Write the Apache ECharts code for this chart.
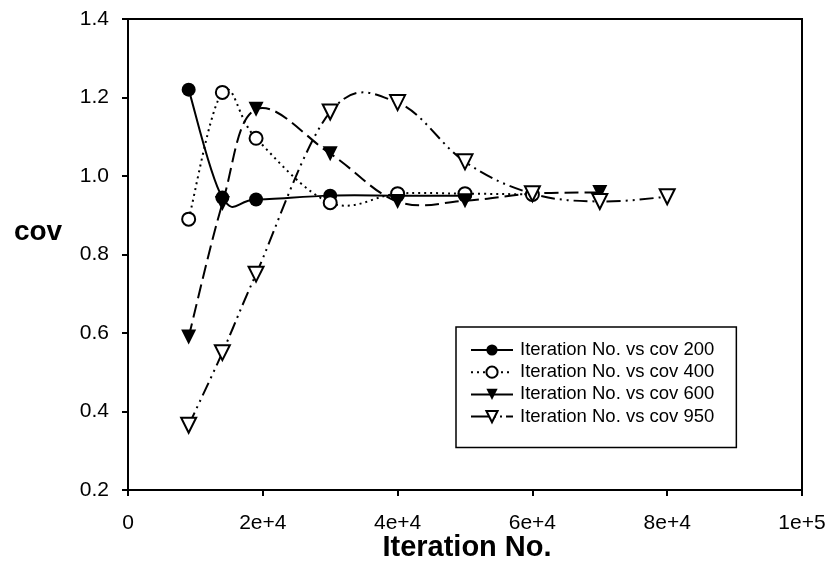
<!DOCTYPE html>
<html>
<head>
<meta charset="utf-8">
<script src="https://cdn.jsdelivr.net/npm/echarts@6/dist/echarts.min.js"></script>
<style>html,body{margin:0;padding:0;background:#fff}#chart{width:830px;height:568px}</style>
</head>
<body>
<div id="chart"></div>
<script>
var seriesNames = ['Iteration No. vs cov 200', 'Iteration No. vs cov 400', 'Iteration No. vs cov 600', 'Iteration No. vs cov 950'];
var iter200 = [9000, 14000, 19000, 30000, 40000, 50000];
var cov200  = [1.22, 0.945, 0.94, 0.95, 0.95, 0.95];
var iter400 = [9000, 14000, 19000, 30000, 40000, 50000, 60000];
var cov400  = [0.89, 1.213, 1.096, 0.932, 0.955, 0.955, 0.953];
var iter600 = [9000, 14000, 19000, 30000, 40000, 50000, 60000, 70000];
var cov600  = [0.59, 0.93, 1.17, 1.057, 0.935, 0.937, 0.955, 0.958];
var iter950 = [9000, 14000, 19000, 30000, 40000, 50000, 60000, 70000, 80000];
var cov950  = [0.365, 0.55, 0.75, 1.163, 1.187, 1.036, 0.955, 0.935, 0.947];
var xTickLabels = ['0', '2e+4', '4e+4', '6e+4', '8e+4', '1e+5'];
var yTickLabels = ['0.2', '0.4', '0.6', '0.8', '1.0', '1.2', '1.4'];
var xTitle = 'Iteration No.';
var yTitle = 'cov';

function pairs(xs, ys) { return xs.map(function (x, i) { return [x, ys[i]]; }); }

var chart = echarts.init(document.getElementById('chart'), null, {renderer: 'canvas'});
var font = 'Liberation Sans';
var TENSION = 0.18;

var dash200 = 'solid', dash400 = [2, 4], dash600 = [14, 6], dash950 = [14, 5, 2, 5, 2, 5];

// Smoothed (spreadsheet-style) curve drawn through the data points, using the chart's own scales
function curve(name, xs, ys, lineDash) {
  return {
    name: name + ' (curve)', type: 'custom', data: pairs(xs, ys), silent: true, z: 2,
    animation: false,
    renderItem: function (params, api) {
      if (params.dataIndex !== 0) return null;
      var p = xs.map(function (x, i) { return api.coord([x, ys[i]]); });
      var n = p.length;
      var d = 'M' + p[0][0] + ' ' + p[0][1];
      for (var i = 0; i < n - 1; i++) {
        var p0 = p[Math.max(i - 1, 0)], p1 = p[i], p2 = p[i + 1], p3 = p[Math.min(i + 2, n - 1)];
        var c1x = p1[0] + (p2[0] - p0[0]) * TENSION, c1y = p1[1] + (p2[1] - p0[1]) * TENSION;
        var c2x = p2[0] - (p3[0] - p1[0]) * TENSION, c2y = p2[1] - (p3[1] - p1[1]) * TENSION;
        d += ' C' + c1x + ' ' + c1y + ' ' + c2x + ' ' + c2y + ' ' + p2[0] + ' ' + p2[1];
      }
      return {
        type: 'path', shape: {pathData: d},
        style: {stroke: '#000', fill: null, lineWidth: 2, lineDash: lineDash === 'solid' ? null : lineDash}
      };
    }
  };
}

function marks(name, xs, ys, symbol, filled, lineType, size) {
  return {
    name: name, type: 'line', data: pairs(xs, ys), smooth: false,
    symbol: symbol, symbolSize: size, symbolRotate: symbol === 'triangle' ? 180 : 0,
    showSymbol: true,
    lineStyle: {color: '#000', width: 2, type: lineType, opacity: 0},
    itemStyle: {color: filled ? '#000' : '#fff', borderColor: '#000', borderWidth: filled ? 0 : 2, opacity: 1},
    emphasis: {disabled: true}, animation: false, z: 3
  };
}

chart.setOption({
  animation: false,
  grid: {left: 128, right: 28, top: 19, bottom: 78, show: true, borderColor: '#000', borderWidth: 2, backgroundColor: 'transparent'},
  xAxis: {
    type: 'value', min: 0, max: 100000, interval: 20000,
    axisLine: {lineStyle: {color: '#000', width: 2}},
    axisTick: {show: true, inside: false, length: 6, lineStyle: {color: '#000', width: 2}},
    axisLabel: {color: '#000', fontFamily: font, fontSize: 21, margin: 23,
      formatter: function (v) { return xTickLabels[Math.round(v / 20000)]; }},
    splitLine: {show: false}
  },
  yAxis: {
    type: 'value', min: 0.2, max: 1.4, interval: 0.2,
    axisLine: {show: true, lineStyle: {color: '#000', width: 2}},
    axisTick: {show: true, inside: false, length: 6, lineStyle: {color: '#000', width: 2}},
    axisLabel: {color: '#000', fontFamily: font, fontSize: 21, margin: 19,
      formatter: function (v) { return yTickLabels[Math.round((v - 0.2) / 0.2)]; }},
    splitLine: {show: false}
  },
  legend: {
    orient: 'vertical', left: 456, top: 327,
    padding: [13.5, 22, 21.5, 14],
    borderColor: '#000', borderWidth: 1.5, backgroundColor: '#fff',
    itemWidth: 42, itemHeight: 14, itemGap: 3.2,
    textStyle: {color: '#000', fontFamily: font, fontSize: 18.5, padding: [0, 0, 0, 2]},
    data: [
      {name: seriesNames[0], lineStyle: {opacity: 1, type: 'solid', width: 2, color: '#000'}},
      {name: seriesNames[1], lineStyle: {opacity: 1, type: [2, 4], width: 2, color: '#000'}},
      {name: seriesNames[2], lineStyle: {opacity: 1, type: 'solid', width: 2, color: '#000'}},
      {name: seriesNames[3], lineStyle: {opacity: 1, type: [20, 3, 2, 4, 2, 4], width: 2, color: '#000'}}
    ]
  },
  graphic: [
    {type: 'text', x: 38, y: 232, style: {text: yTitle, font: 'bold 28px "Liberation Sans"', fill: '#000', align: 'center', verticalAlign: 'middle'}},
    {type: 'text', x: 467, y: 548, style: {text: xTitle, font: 'bold 29px "Liberation Sans"', fill: '#000', align: 'center', verticalAlign: 'middle'}}
  ],
  series: [
    curve(seriesNames[0], iter200, cov200, dash200),
    curve(seriesNames[1], iter400, cov400, dash400),
    curve(seriesNames[2], iter600, cov600, dash600),
    curve(seriesNames[3], iter950, cov950, dash950),
    marks(seriesNames[0], iter200, cov200, 'circle', true, 'solid', 14),
    marks(seriesNames[1], iter400, cov400, 'circle', false, dash400, 13),
    marks(seriesNames[2], iter600, cov600, 'triangle', true, dash600, 15),
    marks(seriesNames[3], iter950, cov950, 'triangle', false, dash950, 15)
  ]
});
</script>
</body>
</html>
